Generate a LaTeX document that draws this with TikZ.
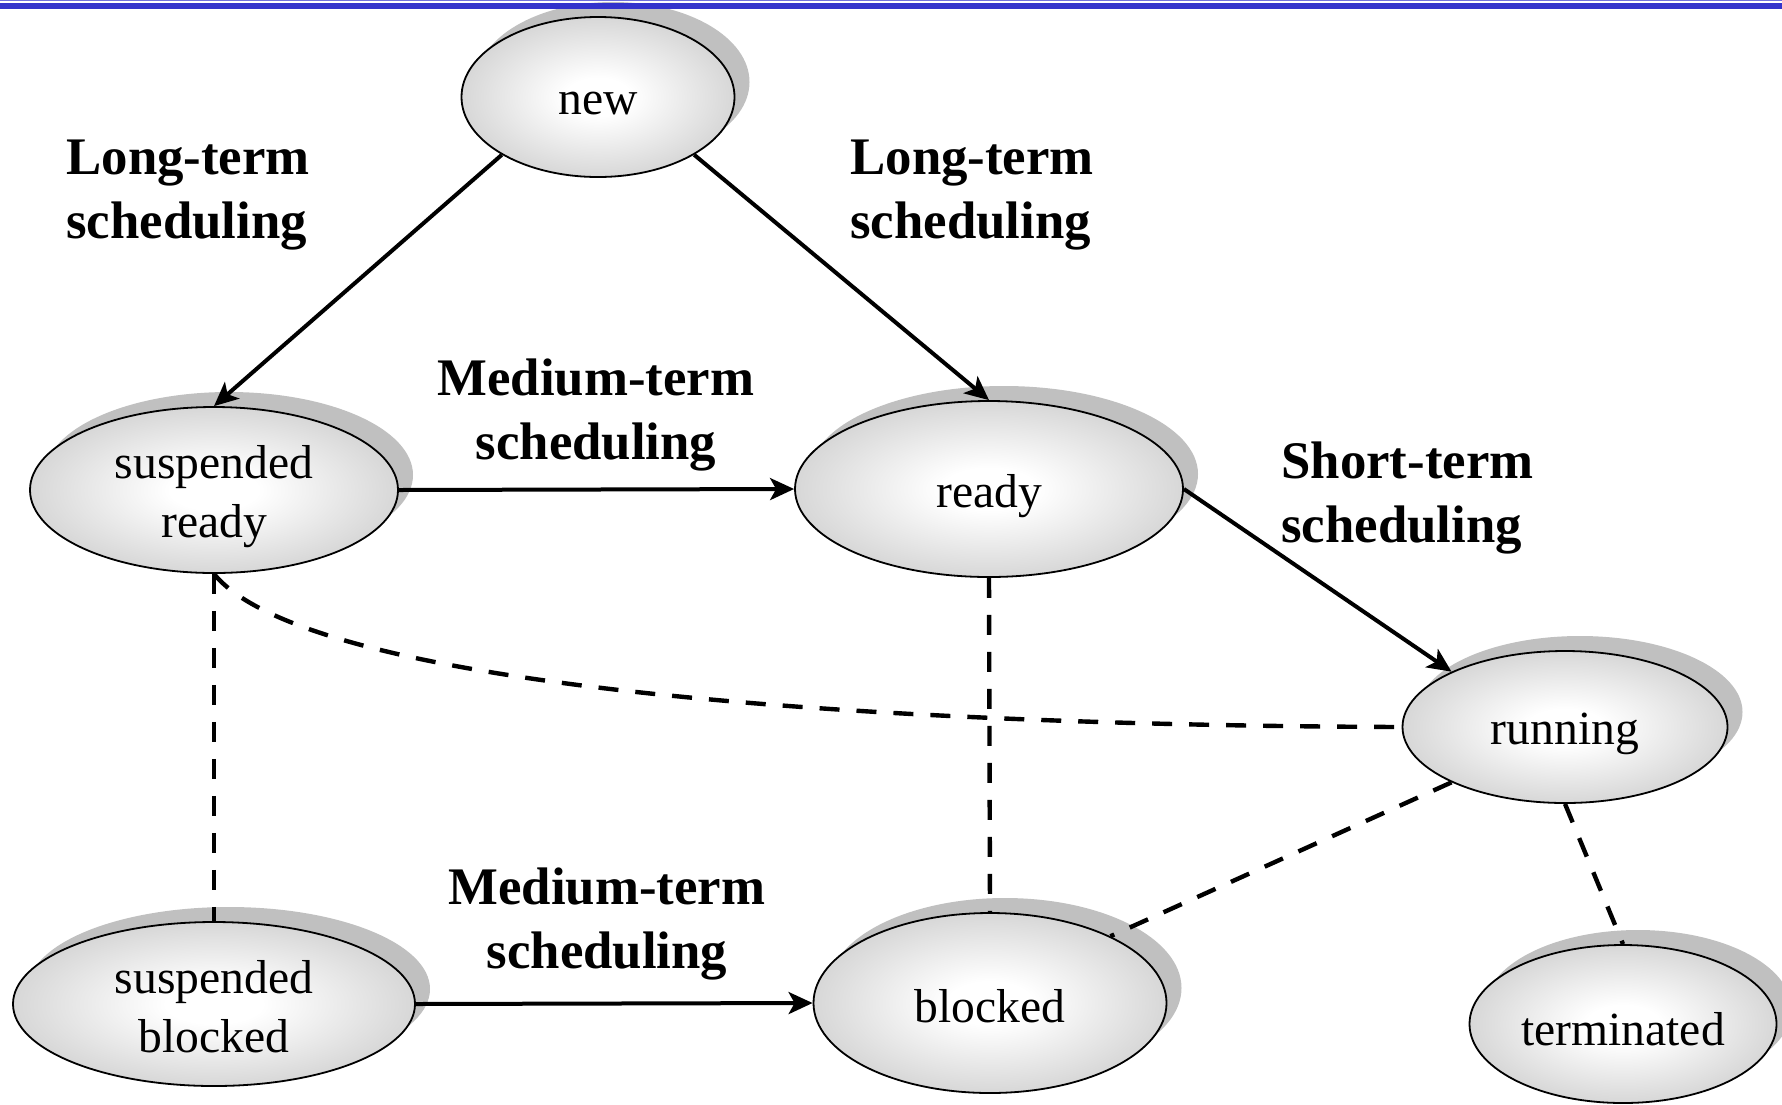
\documentclass[tikz,border=0pt]{standalone}
\usepackage{fontspec}
\setmainfont{Liberation Serif}
\usetikzlibrary{arrows.meta,shapes.geometric,shadows}
\definecolor{ovalgray}{RGB}{192,192,192}
\definecolor{barblue}{RGB}{51,51,204}
\pgfdeclareradialshading{ovalglow}{\pgfpoint{0bp}{0bp}}{color(0bp)=(white); color(6bp)=(white); color(36bp)=(ovalgray); color(50bp)=(ovalgray)}
\tikzset{
  state/.style={ellipse, draw=black, line width=0.9pt, shading=ovalglow, inner sep=0pt,
    drop shadow={shadow xshift=7.5pt, shadow yshift=7.5pt, fill=ovalgray, opacity=1}},
  statetext/.style={inner sep=0pt, align=center, font=\fontsize{23.8}{29.5}\selectfont},
  phase/.style={font=\bfseries\fontsize{26.4}{32}\selectfont, inner sep=0pt},
  link/.style={line width=2pt, -{Stealth[length=12pt,width=11pt,inset=3pt]}},
  tie/.style={line width=2.2pt, dash pattern=on 10pt off 8.5pt}
}
\begin{document}
\begin{tikzpicture}[x=0.5pt,y=-0.5pt]
\useasboundingbox (0,0) rectangle (1782,1104);

% process states
\node[state, minimum width=136.5pt, minimum height=80pt]   (new)     at (598,97)   {};
\node[state, minimum width=184pt,   minimum height=83pt]   (sr)      at (214,490)  {};
\node[state, minimum width=194pt,   minimum height=88pt]   (ready)   at (989,489)  {};
\node[state, minimum width=162.5pt, minimum height=76pt]   (running) at (1565,727) {};
\node[state, minimum width=201pt,   minimum height=82pt]   (sb)      at (214,1004) {};
\node[state, minimum width=176.5pt, minimum height=90pt]   (blocked) at (990,1003) {};
\node[state, minimum width=153.5pt, minimum height=79pt]   (term)    at (1623,1024) {};

% state names, set a little below each oval's centre
\node[statetext] (newtxt)     at ([yshift=-3.5pt]new.center)     {new};
\node[statetext] (srtxt)      at ([yshift=-3.5pt]sr.center)      {suspended\\ready};
\node[statetext] (readytxt)   at ([yshift=-3.5pt]ready.center)   {ready};
\node[statetext] (runningtxt) at ([yshift=-3.5pt]running.center) {running};
\node[statetext] (sbtxt)      at ([yshift=-1.5pt]sb.center)      {suspended\\blocked};
\node[statetext] (blockedtxt) at ([yshift=-1.5pt]blocked.center) {blocked};
\node[statetext] (termtxt)    at ([yshift=-2.5pt]term.center)    {terminated};

% scheduling levels
\node[phase, anchor=west, align=left]  (lt1) at (66,195)   {Long-term\\scheduling};
\node[phase, anchor=west, align=left]  (lt2) at (850,195)  {Long-term\\scheduling};
\node[phase, align=center]             (mt1) at (596,415)  {Medium-term\\scheduling};
\node[phase, anchor=west, align=left]  (st)  at (1281,498) {Short-term\\scheduling};
\node[phase, align=center]             (mt2) at (607,924)  {Medium-term\\scheduling};

% scheduling transitions
\draw[link] (new.211) -- (sr.north);
\draw[link] (new.329) -- (ready.north);
\draw[link] (sr.east) -- (ready.west);
\draw[link] (ready.east) -- (running.154);
\draw[link] (sb.east) -- (blocked.west);

% other transitions
\draw[tie] (sr.south) -- (sb.north);
\draw[tie] (ready.south) -- (blocked.north);
\draw[tie] (sr.south) .. controls (300,680) and (800,725) .. (running.west);
\draw[tie] (running.206) -- (blocked.29);
\draw[tie] (running.south) -- (term.north);

% title rule
\draw[barblue!70, line width=0.5pt] (0,0.5) -- (1782,0.5);
\fill[barblue] (0,3) rectangle (1782,9);
\end{tikzpicture}
\end{document}
